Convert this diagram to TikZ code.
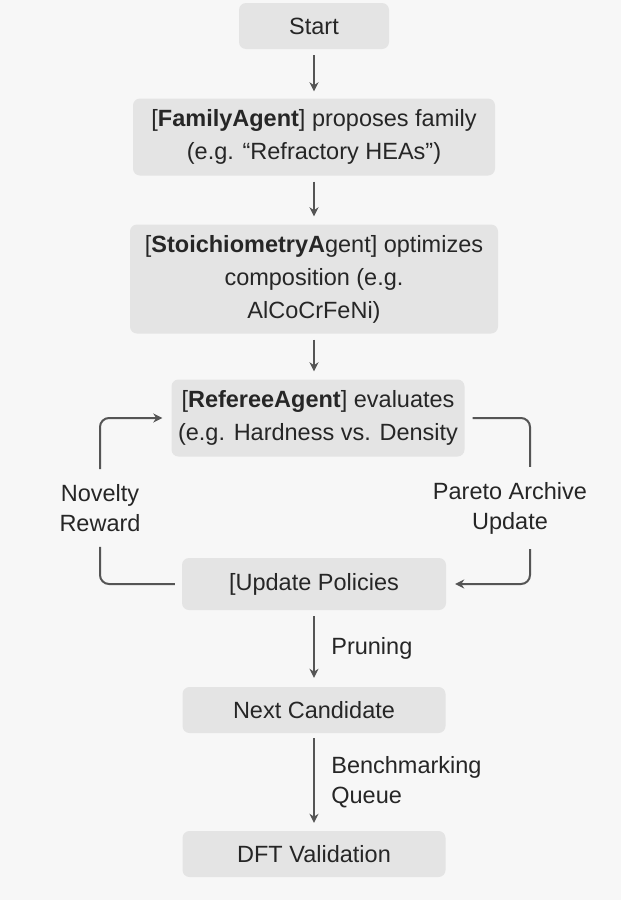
\documentclass[tikz,border=0pt]{standalone}
\usepackage{fontspec}
\setmainfont{Liberation Sans}
\usetikzlibrary{arrows.meta}
\definecolor{paper}{HTML}{F7F7F7}
\definecolor{boxfill}{HTML}{E4E4E4}
\definecolor{ink}{HTML}{262626}
\definecolor{wire}{HTML}{555555}

\tikzset{
  stepbox/.style={fill=boxfill, rounded corners=7pt, text=ink, align=center,
    inner sep=0pt, font=\fontsize{23.5}{33}\selectfont},
  wireline/.style={draw=wire, line width=2pt, rounded corners=9pt},
  flow/.style={wireline, -{Stealth[length=9pt,width=9pt]}},
  tag/.style={text=ink, align=center, inner xsep=0pt, inner ysep=15pt,
    font=\fontsize{23.5}{30}\selectfont}
}

\begin{document}
\begin{tikzpicture}[x=1pt, y=-1pt]
\useasboundingbox (0,0) rectangle (621,900);
\fill[paper] (0,0) rectangle (621,900);

	% boxes down the middle
	\node[stepbox, minimum width=150pt, minimum height=46pt] (start) at (314,26) {Start};
	\node[stepbox, minimum width=362pt, minimum height=77pt] (family) at (314,137)
		{[\textbf{FamilyAgent}] proposes family\\(e.g. “Refractory HEAs”)};
	\node[stepbox, minimum width=368pt, minimum height=109pt] (stoich) at (314,279)
		{[\textbf{StoichiometryA}gent] optimizes\\composition (e.g.\\AlCoCrFeNi)};
	\node[stepbox, minimum width=293pt, minimum height=77pt] (referee) at (318,418)
		{[\textbf{RefereeAgent}] evaluates\\(e.g. Hardness vs. Density};
	\node[stepbox, minimum width=264pt, minimum height=52pt] (update) at (314,584)
		{[Update Policies};
	\node[stepbox, minimum width=263pt, minimum height=46pt] (next) at (314,710)
		{Next Candidate};
	\node[stepbox, minimum width=263pt, minimum height=46pt] (dft) at (314,854)
		{DFT Validation};

	% side labels of the loop
	\node[tag] (novelty) at (100,508) {Novelty\\Reward};
	\node[tag] (pareto) at (510,508) {Pareto Archive\\Update};

	% straight flow
	\draw[flow, shorten <=6pt, shorten >=7pt] (start) -- (family);
	\draw[flow, shorten <=6pt, shorten >=8pt] (family) -- (stoich);
	\draw[flow, shorten <=6pt, shorten >=8pt] (stoich.south) -- (stoich.south |- referee.north);
	\draw[flow, shorten <=6pt, shorten >=9pt] (update) -- (next)
		node[midway, right=13pt, text=ink, font=\fontsize{23.5}{30}\selectfont] {Pruning};
	\draw[flow, shorten <=5pt, shorten >=8pt] (next) -- (dft)
		node[midway, right=13pt, text=ink, align=left, font=\fontsize{23.5}{30}\selectfont] {Benchmarking\\Queue};

	% loop round the referee
	\draw[wireline, shorten <=7pt] (update.west) -| (novelty.south);
	\draw[flow, shorten >=9pt] (novelty.north) |- (referee.west);
	\draw[wireline, shorten <=8pt] (referee.east) -| ([xshift=20pt]pareto.north);
	\draw[flow, shorten >=9pt] ([xshift=20pt]pareto.south) |- (update.east);
\end{tikzpicture}
\end{document}
